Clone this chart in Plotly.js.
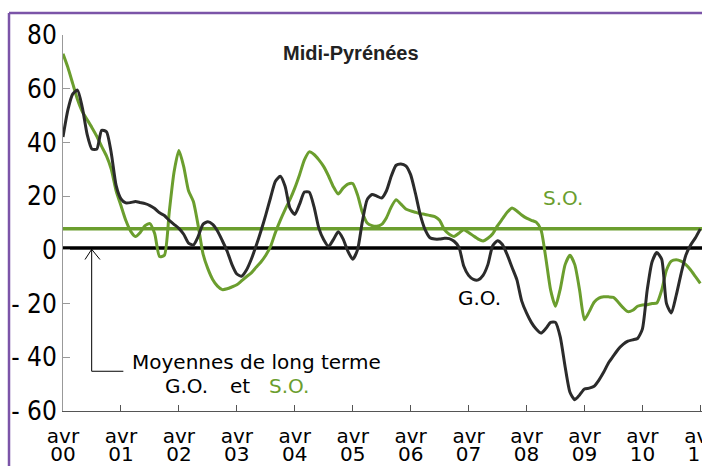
<!DOCTYPE html>
<html>
<head>
<meta charset="utf-8">
<script src="https://cdn.plot.ly/plotly-3.0.1.min.js"></script>
<style>
html,body{margin:0;padding:0;background:#fff;}
#chart{width:702px;height:466px;}
</style>
</head>
<body>
<div id="chart"></div>
<script>
// Monthly series, April 2000 (index 0) to April 2011 (index 132)
const goValues = [
 42, 52, 58, 59.5, 53, 43, 37.5, 37.5, 44.5, 44, 36, 24,
 19, 17.5, 17.6, 18, 17.6, 17.2, 16.5, 15.4, 13.8, 12.8, 11, 9.5,
 8, 5.8, 2.5, 1.8, 5, 9.5, 10.5, 9.5, 7, 3.4, -0.5, -5.5,
 -9, -9.8, -7.5, -3.5, 1.5, 7, 13, 19.5, 25.5, 27.4, 23.7, 15.5,
 13.2, 17, 21.5, 21.5, 16, 8, 3.8, 1.3, 3.8, 6.7, 4.1, -0.5,
 -3.5, 0, 10.5, 18.7, 20.6, 20, 19.3, 22, 27.5, 31.5, 32, 31.3,
 28, 21, 13, 7.5, 4.5, 4, 4, 4.3, 4.2, 3.2, 1, -6,
 -9.5, -11, -11.2, -9.5, -5.5, 1.5, 3.4, 2, -1.8, -6.5, -11.1, -19,
 -23.5, -27, -29.5, -31, -29.3, -27, -27, -32.5, -43.5, -53, -55.8, -54,
 -51.8, -51.5, -50.8, -48.5, -45.5, -42, -39.5, -37, -35.2, -34, -33.5, -33,
 -29.5, -15, -4.5, -1, -3.5, -20, -23.5, -17, -9, -2, 1.8, 4.5,
 7.8
];
const soValues = [
 73, 68, 62, 56, 51.5, 48.5, 45.5, 42.3, 38.5, 35, 30, 22,
 16.5, 11, 7, 5, 6.5, 9, 9.8, 6, -2.5, -2, 14, 29,
 37, 31, 22, 18, 9, -1.5, -7, -11, -13.5, -14.8, -14.5, -13.8,
 -13, -11.5, -10, -8.6, -6.5, -4.5, -2, 1.3, 6.5, 11, 15, 18.7,
 23, 28, 33.5, 36.5, 35.5, 33.5, 31, 27.5, 23.5, 20.8, 23, 24.5,
 24.7, 20.5, 14, 10, 9, 8.8, 9.5, 12, 16, 18.7, 17, 15.2,
 14.5, 14, 13.5, 13.2, 12.8, 12.4, 11, 7.5, 5.8, 5, 6.2, 7.5,
 6.5, 5.2, 4, 3.3, 4.3, 6, 9, 11.5, 14, 15.6, 14.5, 13,
 11.8, 11, 10.3, 7.5, -3, -15, -21, -14.5, -5.5, -2, -5.5, -15,
 -26, -23, -19.5, -18, -17.5, -17.5, -17.7, -19.5, -21.5, -23, -22.5, -21,
 -20.5, -20.4, -20, -19.8, -15, -7.5, -4.2, -3.7, -4.2, -5.5, -7.5, -10,
 -12.5
];
const goAvg = 0.7;   // long-term mean G.O.
const soAvg = 7.9;   // long-term mean S.O.
const yTickVals = [-60, -40, -20, 0, 20, 40, 60, 80];
const yTickText = ['- 60', '- 40', '- 20', '0', '20', '40', '60', '80'];
const xTickYears = ['00','01','02','03','04','05','06','07','08','09','10','11'];
const xTickMonth = 'avr';

const monthIdx = goValues.map((_, i) => i);
const xTickVals = xTickYears.map((_, i) => i * 12);
const xRange = [0, 132.35];

const GREEN = '#6b9e2e';
const DARK = '#2b2b2b';
const FONT = 'DejaVu Sans, Verdana, sans-serif';

const traces = [
  {x: xRange, y: [soAvg, soAvg], mode: 'lines', line: {color: GREEN, width: 3.5}, hoverinfo: 'skip'},
  {x: xRange, y: [goAvg, goAvg], mode: 'lines', line: {color: '#000', width: 3.5}, hoverinfo: 'skip'},
  {x: monthIdx, y: soValues, mode: 'lines', line: {color: GREEN, width: 3, shape: 'spline', smoothing: 0.6}, name: 'S.O.'},
  {x: monthIdx, y: goValues, mode: 'lines', line: {color: DARK, width: 3, shape: 'spline', smoothing: 0.6}, name: 'G.O.'},
  {x: [0], y: [0], xaxis: 'x2', mode: 'markers', marker: {opacity: 0}, hoverinfo: 'skip'}
];

const txtFont = {family: FONT, size: 20, color: '#000'};

const layout = {
  width: 702, height: 466,
  margin: {l: 63, r: 0, t: 35, b: 55},
  paper_bgcolor: '#fff', plot_bgcolor: '#fff',
  showlegend: false,
  xaxis: {
    range: xRange, showgrid: false, zeroline: false,
    showline: true, linecolor: '#555', linewidth: 1,
    ticks: 'inside', ticklen: 6, tickcolor: '#555',
    tickvals: xTickVals, ticktext: xTickVals.map(() => xTickMonth),
    ticklabeloverflow: 'allow', ticklabelstandoff: 7,
    tickfont: {family: FONT, size: 20, color: '#000'}
  },
  xaxis2: {
    range: xRange, overlaying: 'x', anchor: 'y', side: 'bottom',
    showgrid: false, zeroline: false, showline: false, ticks: '',
    tickvals: xTickVals, ticktext: xTickYears,
    ticklabeloverflow: 'allow', ticklabelstandoff: 29,
    tickfont: {family: FONT, size: 20, color: '#000'}
  },
  yaxis: {
    range: [-60, 80], showgrid: false, zeroline: false,
    showline: true, linecolor: '#999', linewidth: 1,
    ticks: 'inside', ticklen: 7, tickcolor: '#999',
    tickvals: yTickVals, ticktext: yTickText,
    tickfont: {family: 'Liberation Sans Narrow, DejaVu Sans Condensed, sans-serif', size: 26, color: '#000'}
  },
  shapes: [
    {type: 'line', xref: 'paper', yref: 'paper', x0: -0.0845, x1: -0.0845, y0: 1.0585, y1: -0.2, line: {color: '#7b54a8', width: 2.5}},
    {type: 'line', xref: 'paper', yref: 'paper', x0: -0.0845, x1: 1.0, y0: 1.0585, y1: 1.0585, line: {color: '#7b54a8', width: 2.5}},
    {type: 'path', xref: 'x', yref: 'y', path: 'M 5.94,0.2 L 5.94,-45.2 L 12.5,-45.2', line: {color: '#000', width: 1}},
    {type: 'path', xref: 'x', yref: 'y', path: 'M 4.56,-3.6 L 5.94,0.2 L 7.66,-3.6', line: {color: '#000', width: 1}}
  ],
  annotations: [
    {x: 6.2, y: 82.3, xref: 'x', yref: 'y', text: '<i>%</i>', showarrow: false, font: {family: FONT, size: 20, color: '#000'}},
    {x: 59.7, y: 73.4, xref: 'x', yref: 'y', text: '<b>Midi-Pyrénées</b>', showarrow: false, font: {family: 'Liberation Sans, Arial, sans-serif', size: 20, color: '#222'}},
    {x: 103.6, y: 19.4, xref: 'x', yref: 'y', text: 'S.O.', showarrow: false, font: {family: FONT, size: 20, color: GREEN}},
    {x: 86.2, y: -17.8, xref: 'x', yref: 'y', text: 'G.O.', showarrow: false, font: txtFont},
    {x: 13.88, y: -41.6, xref: 'x', yref: 'y', xanchor: 'left', text: 'Moyennes de long terme', showarrow: false, font: txtFont},
    {x: 20.71, y: -50.6, xref: 'x', yref: 'y', xanchor: 'left', text: 'G.O.', showarrow: false, font: txtFont},
    {x: 34.18, y: -50.6, xref: 'x', yref: 'y', xanchor: 'left', text: 'et', showarrow: false, font: txtFont},
    {x: 42.25, y: -50.6, xref: 'x', yref: 'y', xanchor: 'left', text: 'S.O.', showarrow: false, font: {family: FONT, size: 20, color: GREEN}}
  ]
};

Plotly.newPlot('chart', traces, layout, {displayModeBar: false, staticPlot: true});
</script>
</body>
</html>
